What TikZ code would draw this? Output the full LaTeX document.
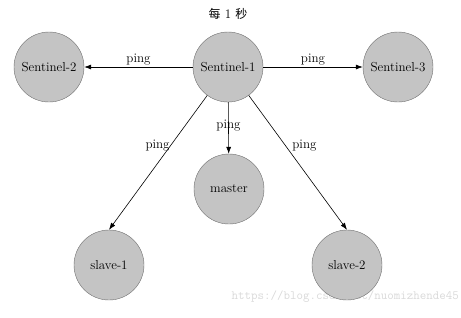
\documentclass[tikz,border=0pt]{standalone}
\usepackage{fontspec}
\newfontfamily\cjk{Noto Sans CJK SC}
\usetikzlibrary{arrows.meta,positioning}
\definecolor{nodegray}{HTML}{C4C4C4}
\definecolor{edgegray}{HTML}{6E6E6E}
\tikzset{
  sentinel/.style={circle,draw=edgegray,fill=nodegray,minimum size=70pt,inner sep=0pt,
    font=\fontsize{13}{15}\selectfont},
  pinged/.style={-{Latex[length=7pt,width=5pt]},black,line width=0.6pt},
  pinglabel/.style={font=\fontsize{13}{15}\selectfont,inner sep=1pt}
}

\begin{document}
\begin{tikzpicture}[x=1pt,y=-1pt]
  \useasboundingbox (0,0) rectangle (461,317);
  % watermark
  \node[anchor=east,text=black!15,font=\ttfamily\fontsize{12.6}{14}\selectfont,inner sep=0pt]
    (mark) at (459,297) {https://blog.csdn.net/nuomizhende45};
  % sentinels and servers
  \foreach \x/\y/\name/\txt in {228/67/s1/Sentinel-1, 49/67/s2/Sentinel-2, 398/67/s3/Sentinel-3,
      229/189/master/master, 109/265/slave1/slave-1, 347/265/slave2/slave-2} {
    \node[sentinel] (\name) at (\x,\y) {\txt};
  }
  \node[font=\fontsize{13}{15}\selectfont] (title) at (228,14) {{\cjk\fontsize{12}{14}\selectfont 每} 1 {\cjk\fontsize{12}{14}\selectfont 秒}};
  % ping every second
  \draw[pinged] (s1) -- node[pinglabel,above=1pt] {ping} (s2);
  \draw[pinged] (s1) -- node[pinglabel,above=1pt] {ping} (s3);
  \draw[pinged] (s1) -- node[pinglabel,pos=0.45] {ping} (master);
  \draw[pinged] (s1) -- node[pinglabel,pos=0.37,anchor=east] {ping} (slave1.north);
  \draw[pinged] (s1) -- node[pinglabel,pos=0.37,anchor=west,xshift=6pt] {ping} (slave2.north);
\end{tikzpicture}
\end{document}
